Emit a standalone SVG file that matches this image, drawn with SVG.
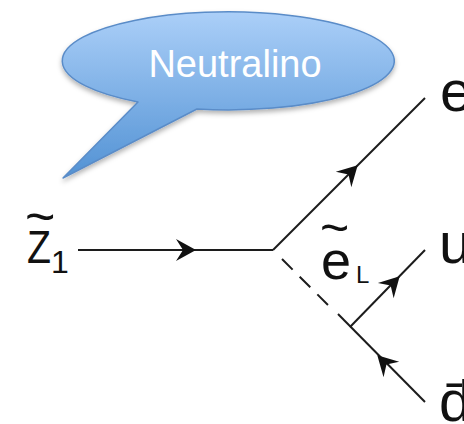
<svg xmlns="http://www.w3.org/2000/svg" width="464" height="424" viewBox="0 0 464 424">
<style>
.ln{stroke:#1c1c1c;stroke-width:2;fill:none;stroke-linecap:butt}
.ah{fill:#111}
.lb{font-family:"Liberation Sans",Arial,Helvetica,sans-serif;fill:#111}
</style>
<defs>
<linearGradient id="g" x1="0" y1="12" x2="0" y2="178" gradientUnits="userSpaceOnUse">
<stop offset="0" stop-color="#abcff8"/>
<stop offset="1" stop-color="#5292d4"/>
</linearGradient>
<filter id="sh" x="-20%" y="-20%" width="140%" height="150%">
<feDropShadow dx="0" dy="3" stdDeviation="2.5" flood-color="#000" flood-opacity="0.3"/>
</filter>
<path id="arr" d="M1,0 L-19,-11 L-12,0 L-19,11 Z"/>
</defs>
<g id="bubble">
<path d="M138,102 A166,49 0 1 1 197,109 L63,178 Z" fill="url(#g)" stroke="#5a8cc8" stroke-width="1.5" stroke-linejoin="round" filter="url(#sh)"/>
<text x="235" y="77" font-family="'Liberation Sans',Arial,sans-serif" font-size="38" fill="#fff" text-anchor="middle">Neutralino</text>
</g>
<g id="connectors">
<line class="ln" x1="78" y1="250" x2="273" y2="250"/>
<line class="ln" x1="273" y1="250" x2="425" y2="98"/>
<line class="ln" x1="282" y1="259" x2="328" y2="305" stroke-dasharray="15 10"/>
<line class="ln" x1="338" y1="314" x2="425" y2="402"/>
<line class="ln" x1="350" y1="327" x2="425" y2="250"/>
<use href="#arr" class="ah" transform="translate(195,250)"/>
<use href="#arr" class="ah" transform="translate(357,166) rotate(-45)"/>
<use href="#arr" class="ah" transform="translate(399,277) rotate(-45.8)"/>
<use href="#arr" class="ah" transform="translate(378,356) rotate(-134.7)"/>
</g>
<g id="z1">
<text class="lb" x="25" y="234" font-size="52">~</text>
<text class="lb" x="27" y="263" font-size="46" textLength="24" lengthAdjust="spacingAndGlyphs">Z</text>
<text class="lb" x="51" y="273" font-size="32">1</text>
</g>
<g id="eL">
<text class="lb" x="320" y="245" font-size="50">~</text>
<text class="lb" x="321" y="279" font-size="54">e</text>
<text class="lb" x="356" y="283" font-size="24">L</text>
</g>
<g id="e"><text class="lb" x="440" y="111" font-size="58">e</text></g>
<g id="u"><text class="lb" x="439" y="263" font-size="58">u</text></g>
<g id="dbar"><text class="lb" x="439" y="421" font-size="58">d̄</text></g>
</svg>
